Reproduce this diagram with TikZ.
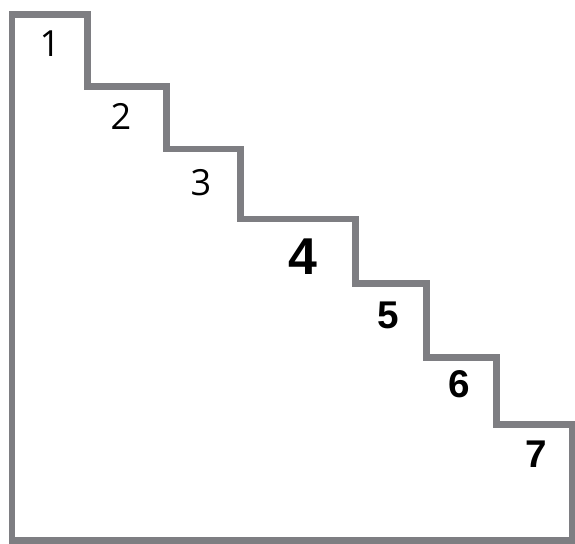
\documentclass[tikz,border=0pt]{standalone}
\usepackage{fontspec}
\setmainfont{Liberation Sans}
\newfontfamily\marchefont{Open Sans}
\definecolor{gristrait}{RGB}{126,126,130}

\begin{document}
\begin{tikzpicture}[
    x=0.02cm, y=-0.02cm,
    contour/.style={draw=gristrait, line width=0.14cm, line join=miter},
    petit/.style={font=\marchefont\fontsize{20.5}{20.5}\selectfont},
    gras/.style={font=\bfseries\fontsize{22}{22}\selectfont},
    grosgras/.style={font=\bfseries\fontsize{29.5}{29.5}\selectfont},
  ]
  \useasboundingbox (0,0) rectangle (575,544);
  % l'escalier
  \draw[contour] (12,15) -- (87,15) -- (87,87) -- (166,87) -- (166,149)
    -- (240,149) -- (240,219) -- (355,219) -- (355,283) -- (426,283)
    -- (426,357) -- (496,357) -- (496,424) -- (572,424) -- (572,540)
    -- (12,540) -- cycle;
  % les marches
  \node[petit] (m1) at (50,44) {1};
  \node[petit] (m2) at (121,116) {2};
  \node[petit] (m3) at (201,183) {3};
  \node[grosgras] (m4) at (303,257) {4};
  \node[gras] (m5) at (388,315) {5};
  \node[gras] (m6) at (459,384) {6};
  \node[gras] (m7) at (536,454) {7};
\end{tikzpicture}
\end{document}
